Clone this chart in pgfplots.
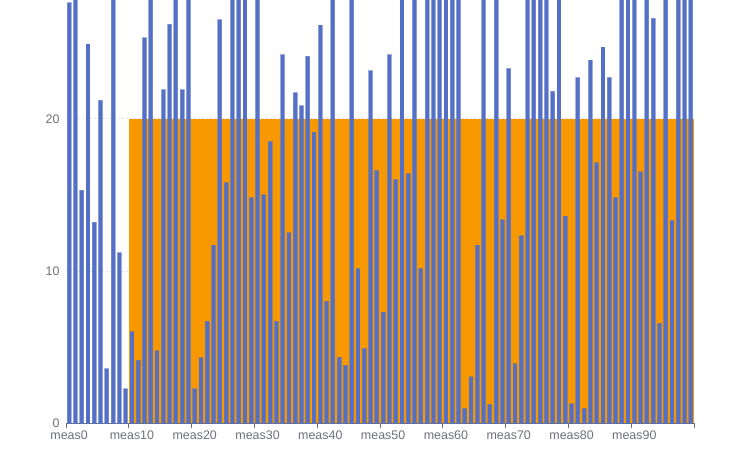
\documentclass[border=0pt]{standalone}
\usepackage{fontspec}
\setmainfont{Liberation Sans}
\usepackage{pgfplots}
\pgfplotsset{compat=1.18}
\usepackage{pgfplotstable}

\definecolor{barblue}{HTML}{5470C6}
\definecolor{markorange}{HTML}{F79800}
\definecolor{axisgrey}{HTML}{6E7079}
\definecolor{gridgrey}{HTML}{DCE2EE}

% bar heights; bars that run off the top are given 30
\pgfplotstableread{
x y
0 27.6
1 30
2 15.3
3 24.9
4 13.2
5 21.2
6 3.57
7 30
8 11.2
9 2.25
10 6.0
11 4.14
12 25.3
13 30
14 4.75
15 21.9
16 26.2
17 30
18 21.9
19 30
20 2.25
21 4.29
22 6.7
23 11.7
24 26.5
25 15.8
26 30
27 30
28 30
29 14.8
30 30
31 15.0
32 18.5
33 6.7
34 24.2
35 12.5
36 21.7
37 20.85
38 24.1
39 19.1
40 26.15
41 8.0
42 30
43 4.33
44 3.8
45 30
46 10.15
47 4.9
48 23.15
49 16.6
50 7.3
51 24.2
52 16.0
53 30
54 16.4
55 30
56 10.15
57 30
58 30
59 30
60 30
61 30
62 30
63 0.96
64 3.04
65 11.7
66 30
67 1.25
68 30
69 13.35
70 23.3
71 3.9
72 12.3
73 30
74 30
75 30
76 30
77 21.8
78 30
79 13.6
80 1.27
81 22.7
82 0.96
83 23.85
84 17.1
85 24.7
86 22.7
87 14.8
88 30
89 30
90 30
91 16.5
92 30
93 26.6
94 6.56
95 30
96 13.3
97 30
98 30
99 30
}\meas

\begin{document}
\begin{tikzpicture}
\begin{axis}[
    scale only axis,
    width=628bp, height=423.3bp,
    xmin=-0.5, xmax=99.5,
    ymin=0, ymax=27.8,
    axis x line*=bottom,
    axis y line*=left,
    x axis line style={draw=axisgrey, line width=0.8pt},
    y axis line style={draw=none},
    xtick={0,10,...,90},
    xticklabels={meas0,meas10,meas20,meas30,meas40,meas50,meas60,meas70,meas80,meas90},
    minor xtick={-0.5,9.5,...,99.5},
    tick align=outside,
    major tick length=0pt,
    minor tick length=5bp,
    minor x tick style={draw=axisgrey, line width=0.8pt},
    ytick={0,10,20},
    ymajorgrids=true,
    grid style={draw=gridgrey, line width=0.8pt, dash pattern=on 2bp off 2bp},
    /pgf/number format/assume math mode=true,
    tick label style={font=\fontsize{12.5}{14}\selectfont, text=axisgrey},
    xticklabel style={yshift=-4bp},
    yticklabel style={xshift=-3bp},
]
\addplot [fill=markorange, draw=none, forget plot]
    coordinates {(9.5,20) (99.5,20)} \closedcycle;
\addplot [ybar, bar width=0.58, fill=barblue, draw=barblue, draw opacity=0.5,
    line width=1.2bp] table [x=x, y=y] {\meas};
\end{axis}
\pgfresetboundingbox
\useasboundingbox (-66bp,-38.7bp) rectangle (664bp,423.3bp);
\end{tikzpicture}
\end{document}
